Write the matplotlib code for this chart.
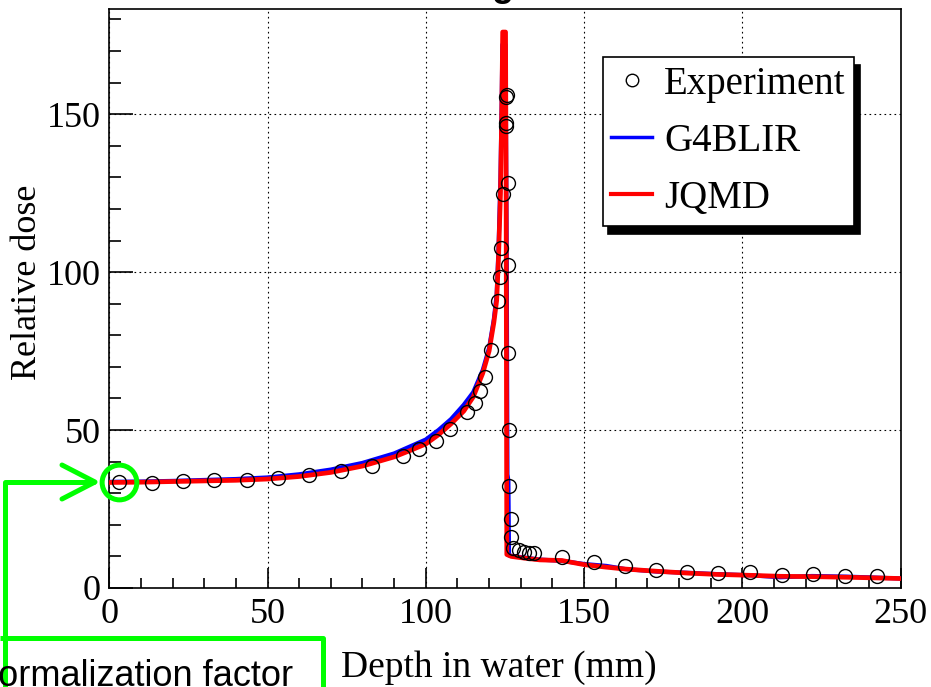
import matplotlib
matplotlib.use("Agg")
import matplotlib.pyplot as plt
from matplotlib.lines import Line2D
from matplotlib.ticker import MultipleLocator

# experiment points (depth mm, relative dose)
exp_x = [3.2, 13.5, 23.2, 33.1, 43.4, 53.2, 63.1, 73.1, 83.1, 92.8, 98.0, 103.3,
         107.8, 113.0, 115.4, 117.2, 118.8, 120.6, 122.7, 123.3, 123.8, 124.3,
         125.2, 125.7, 125.2, 125.4, 125.9, 125.9, 125.9, 126.2, 126.4, 127.0,
         127.0, 127.7, 129.6, 131.1, 132.7, 134.3, 143.0, 153.0, 163.0, 172.8,
         182.6, 192.4, 202.6, 212.4, 222.4, 232.6, 242.6]
exp_y = [33.7, 33.3, 33.9, 34.2, 34.2, 34.9, 35.8, 37.0, 38.7, 41.8, 43.9, 46.5,
         50.4, 55.7, 58.5, 62.5, 66.9, 75.2, 91.0, 98.6, 107.6, 124.8,
         155.4, 156.1, 147.1, 146.3, 128.2, 102.3, 74.5, 50.0, 32.3, 21.8,
         16.2, 12.6, 12.0, 11.5, 11.2, 11.0, 9.7, 8.3, 7.0, 5.7,
         5.2, 4.6, 5.0, 4.1, 4.3, 3.8, 3.8]

# G4BLIR simulation
g4_x = [0, 10, 20, 30, 40, 50, 60, 70, 80, 90, 95, 100, 104, 108, 112, 115, 118,
        120, 121.5, 122.4, 123, 123.6, 124.0, 124.2, 125.2, 125.6, 125.8, 126.1,
        126.3, 127, 130, 136, 143, 150, 157, 163, 173, 183, 192, 203, 212, 222,
        233, 242, 250]
g4_y = [33.6, 33.7, 33.9, 34.2, 34.5, 35.0, 36.0, 37.5, 39.6, 42.6, 44.8, 47.0,
        50.0, 53.5, 58.0, 62.0, 69.0, 76.0, 85, 93, 108, 130, 155, 172, 172, 100,
        36, 34, 10.3, 10.2, 9.8, 9.0, 8.6, 7.6, 7.0, 6.0, 5.2, 4.8, 4.4, 4.0, 3.4,
        3.8, 3.6, 3.3, 3.0]

# JQMD simulation
jqmd_x = [0, 10, 20, 30, 40, 50, 60, 70, 80, 90, 95, 100, 104, 108, 112, 115, 118,
          120, 121.5, 122.4, 123, 123.6, 124.0, 124.3, 125.2, 125.4, 125.5, 125.6,
          127, 130, 136, 143, 150, 157, 163, 173, 183, 192, 203, 212, 222, 233,
          242, 250]
jqmd_y = [33.4, 33.5, 33.7, 33.9, 34.1, 34.5, 35.3, 36.6, 38.6, 41.5, 43.5, 45.6,
          48.5, 52.0, 56.0, 60.5, 68.0, 75.0, 84, 91, 105, 125, 150, 176, 176, 120,
          60, 10.6, 10.0, 9.6, 8.9, 8.7, 7.4, 6.6, 6.0, 5.3, 4.7, 4.3, 4.0, 3.7,
          3.6, 3.4, 3.2, 3.0]

labels = ["Experiment", "G4BLIR", "JQMD"]

W, H = 931, 687
green = "#00ff00"
plt.rcParams["font.family"] = ["Liberation Serif", "DejaVu Serif"]


def fx(px):
    return px / W


def fy(py):
    return 1 - py / H


fig = plt.figure(figsize=(W / 100, H / 100), dpi=100)
ax = fig.add_axes([fx(109.3), fy(588), (900.5 - 109.3) / W, (588 - 9.3) / H])

ax.plot(g4_x, g4_y, color="blue", lw=3.0, zorder=3)
ax.plot(jqmd_x, jqmd_y, color="red", lw=3.4, zorder=4)
ax.plot(exp_x, exp_y, ls="none", marker="o", ms=10, mfc="none", mec="black",
        mew=1.0, zorder=5)

ax.set_xlim(0, 250)
ax.set_ylim(0, 183.2)
ax.xaxis.set_major_locator(MultipleLocator(50))
ax.xaxis.set_minor_locator(MultipleLocator(10))
ax.yaxis.set_major_locator(MultipleLocator(50))
ax.yaxis.set_minor_locator(MultipleLocator(10))
ax.tick_params(which="both", direction="in", top=False, right=False, width=1.2,
               labelsize=26)
ax.tick_params(axis="x", which="major", length=14.4, pad=7.2)
ax.tick_params(axis="x", which="minor", length=7.2)
ax.tick_params(axis="y", which="major", length=17, pad=6)
ax.tick_params(axis="y", which="minor", length=8.6)
for s in ax.spines.values():
    s.set_linewidth(1.2)
ax.grid(True, which="major", color="black", lw=0.8, ls=(0, (1.5, 3.0)))

fig.text(fx(499), fy(677), "Depth in water (mm)", ha="center", va="baseline",
         fontsize=27)
fig.text(fx(36.5), fy(282), "Relative dose", ha="center", va="baseline",
         rotation=90, rotation_mode="anchor", fontsize=26)

# legend with ROOT-like shadow
h_exp = Line2D([], [], ls="none", marker="o", ms=9, mfc="none", mec="black", mew=1.0)
h_g4 = Line2D([], [], color="blue", lw=2.5)
h_jq = Line2D([], [], color="red", lw=3.0)
leg = ax.legend([h_exp, h_g4, h_jq], labels, loc="upper right",
                bbox_to_anchor=(fx(854), fy(57)), bbox_transform=fig.transFigure,
                fancybox=False, framealpha=1,
                shadow={"ox": 4, "oy": -6, "color": "black", "alpha": 1},
                prop={"size": 28}, borderpad=0.22, labelspacing=0.52,
                handlelength=1.05, handletextpad=0.3, borderaxespad=0)
leg.get_frame().set_edgecolor("black")
leg.get_frame().set_linewidth(1.2)

# green normalization annotation
ax.plot(exp_x[0], exp_y[0], ls="none", marker="o", ms=25, mfc="none", mec=green,
        mew=3.6, clip_on=False, zorder=6)
for xs, ys, cap in [([5, 5, 95], [687, 482, 482], "butt"),
                    ([62, 95, 62], [465, 482, 499], "round"),
                    ([0, 323, 323], [638, 638, 687], "butt")]:
    fig.add_artist(Line2D([fx(v) for v in xs], [fy(v) for v in ys],
                          transform=fig.transFigure, color=green, lw=3.6,
                          solid_capstyle=cap, solid_joinstyle="round"))
fig.text(fx(-28), fy(686), "Normalization factor", ha="left", va="baseline",
         fontsize=26, family=["Liberation Sans", "DejaVu Sans"])

# title cut off at the top edge
fig.text(fx(503), fy(-4), "g", ha="center", va="baseline", fontsize=26,
         fontweight="bold", family=["Liberation Sans", "DejaVu Sans"])

fig.savefig("out.png", dpi=100)
